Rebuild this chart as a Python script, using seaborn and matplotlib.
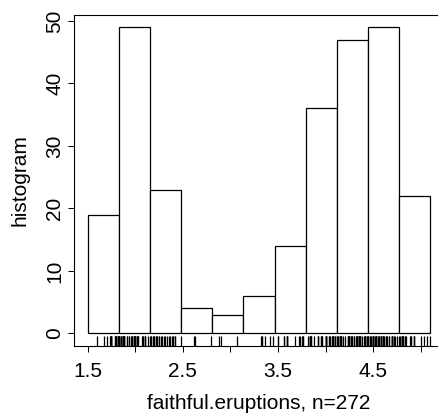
import matplotlib
matplotlib.use("Agg")
import matplotlib.pyplot as plt
import numpy as np
import pandas as pd
import seaborn as sns

# Histogram bin edges and counts
breaks = [1.5, 1.827, 2.155, 2.482, 2.809, 3.136, 3.464, 3.791, 4.118, 4.445, 4.773, 5.1]
counts = [19, 49, 23, 4, 3, 6, 14, 36, 47, 49, 22]

# Old Faithful eruption durations (rug marks)
eruptions = [
    3.600, 1.800, 3.333, 2.283, 4.533, 2.883, 4.700, 3.600, 1.950, 4.350, 1.833, 3.917,
    4.200, 1.750, 4.700, 2.167, 1.750, 4.800, 1.600, 4.250, 1.800, 1.750, 3.450, 3.067,
    4.533, 3.600, 1.967, 4.083, 3.850, 4.433, 4.300, 4.467, 3.367, 4.033, 3.833, 2.017,
    1.867, 4.833, 1.833, 4.783, 4.350, 1.883, 4.567, 1.750, 4.533, 3.317, 3.833, 2.100,
    4.633, 2.000, 4.800, 4.716, 1.833, 4.833, 1.733, 4.883, 3.717, 1.667, 4.567, 4.317,
    2.233, 4.500, 1.750, 4.800, 1.817, 4.400, 4.167, 4.700, 2.067, 4.700, 4.033, 1.967,
    4.500, 4.000, 1.983, 5.067, 2.017, 4.567, 3.883, 3.600, 4.133, 4.333, 4.100, 2.633,
    4.067, 4.933, 3.950, 4.517, 2.167, 4.000, 2.200, 4.333, 1.867, 4.817, 1.833, 4.300,
    4.667, 3.750, 1.867, 4.900, 2.483, 4.367, 2.100, 4.500, 4.050, 1.867, 4.700, 1.783,
    4.850, 3.683, 4.733, 2.300, 4.900, 4.417, 1.700, 4.633, 2.317, 4.600, 1.817, 4.417,
    2.617, 4.067, 4.250, 1.967, 4.600, 3.767, 1.917, 4.500, 2.267, 4.650, 1.867, 4.167,
    2.800, 4.333, 1.833, 4.383, 1.883, 4.933, 2.033, 3.733, 4.233, 2.233, 4.533, 4.817,
    4.333, 1.983, 4.633, 2.017, 5.100, 1.800, 5.033, 4.000, 2.400, 4.600, 3.567, 4.000,
    4.500, 4.083, 1.800, 3.967, 2.200, 4.150, 2.000, 3.833, 3.500, 4.583, 2.367, 5.000,
    1.933, 4.617, 1.917, 2.083, 4.583, 3.333, 4.167, 4.333, 4.500, 2.417, 4.000, 4.167,
    1.883, 4.583, 4.250, 3.767, 2.033, 4.433, 4.083, 1.833, 4.417, 2.183, 4.800, 1.833,
    4.800, 4.100, 3.966, 4.233, 3.500, 4.366, 2.250, 4.667, 2.100, 4.350, 4.133, 1.867,
    4.600, 1.783, 4.367, 3.850, 1.933, 4.500, 2.383, 4.700, 1.867, 3.833, 3.417, 4.233,
    2.400, 4.800, 2.000, 4.150, 1.867, 4.267, 1.750, 4.483, 4.000, 4.117, 4.083, 4.267,
    3.917, 4.550, 4.083, 2.417, 4.183, 2.217, 4.450, 1.883, 1.850, 4.283, 3.950, 2.333,
    4.150, 2.350, 4.933, 2.900, 4.583, 3.833, 2.083, 4.367, 2.133, 4.350, 2.200, 4.450,
    3.567, 4.500, 4.150, 3.817, 3.917, 4.450, 2.000, 4.283, 4.767, 4.533, 1.850, 4.250,
    1.983, 2.250, 4.750, 4.117, 2.150, 4.417, 1.817, 4.467,
]

x_ticks = [1.5, 2.0, 2.5, 3.0, 3.5, 4.0, 4.5, 5.0]
x_tick_labels = ["1.5", "", "2.5", "", "3.5", "", "4.5", ""]
y_ticks = [0, 10, 20, 30, 40, 50]
y_tick_labels = ["0", "10", "20", "30", "40", "50"]
x_label = "faithful.eruptions, n=272"
y_label = "histogram"

sns.set_theme(style="ticks")
plt.rcParams["font.family"] = ["Liberation Sans", "DejaVu Sans"]

fig = plt.figure(figsize=(4.39, 4.13), dpi=100)
ax = fig.add_axes([74 / 439, (413 - 345.7) / 413, (443.9 - 74) / 439, (345.7 - 15) / 413])

centers = [(breaks[i] + breaks[i + 1]) / 2 for i in range(len(counts))]
df = pd.DataFrame({"x": centers, "w": counts})
sns.histplot(data=df, x="x", weights="w", bins=breaks, stat="count",
             color="white", edgecolor="black", linewidth=0.9, alpha=1.0, ax=ax)

sns.rugplot(x=eruptions, height=0.03, color="black", linewidth=0.9,
            expand_margins=False, ax=ax)

ax.set_xlim(1.356, 5.244)
ax.set_ylim(-1.96, 50.96)

ax.set_xticks(x_ticks)
ax.set_xticklabels(x_tick_labels)
ax.set_yticks(y_ticks)
ax.set_yticklabels(y_tick_labels, rotation=90, va="center")

ax.tick_params(axis="both", direction="out", length=4.3, width=0.72, color="black",
               labelsize=15, labelcolor="black")
ax.tick_params(axis="x", pad=7.5)
ax.tick_params(axis="y", pad=2.6)

ax.set_xlabel(x_label, fontsize=15, color="black", labelpad=9.5)
ax.set_ylabel(y_label, fontsize=15, color="black", labelpad=11.5)

for s in ax.spines.values():
    s.set_visible(True)
    s.set_color("black")
    s.set_linewidth(0.8)

ax.set_facecolor("white")
fig.patch.set_facecolor("white")
fig.savefig("out.png", dpi=100)
